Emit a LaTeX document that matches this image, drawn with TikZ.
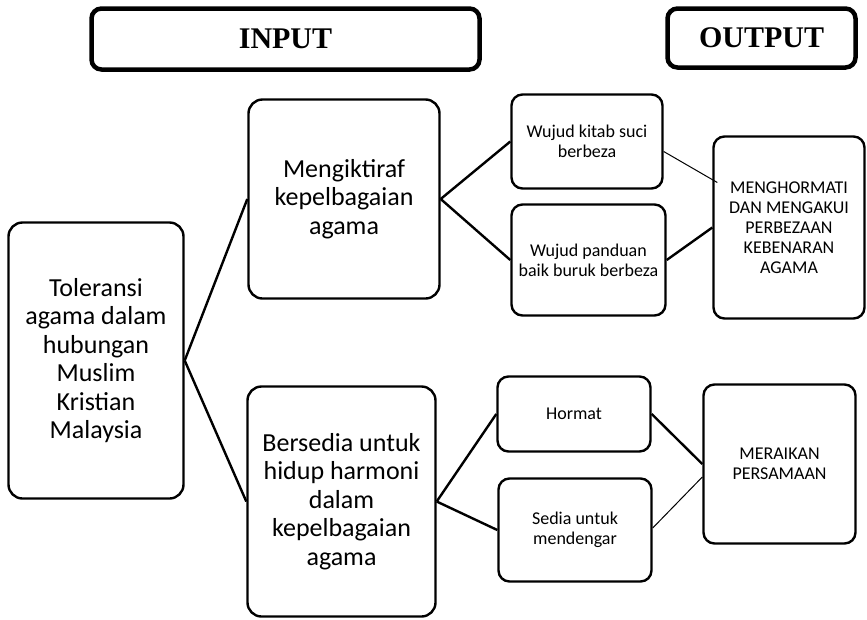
\documentclass[tikz,border=0pt]{standalone}
\usepackage{fontspec}
\setmainfont{Carlito}[UprightFont=*-Regular]
\newfontfamily\hdfont{Liberation Serif}
\begin{document}
\begin{tikzpicture}[x=1pt,y=-1pt,
  box/.style={draw, line width=2.4pt, rounded corners=14pt, align=center, inner sep=0pt, font=\fontsize{26}{28.5}\selectfont},
  sbox/.style={draw, line width=2.4pt, rounded corners=11pt, align=center, inner sep=0pt, font=\fontsize{18}{20}\selectfont},
  hbox/.style={draw, line width=4.5pt, rounded corners=10pt, align=center, inner sep=0pt, font=\hdfont\bfseries\fontsize{30}{32}\selectfont},
  conn/.style={line width=2.4pt},
  thinconn/.style={line width=1pt}]
\useasboundingbox (0,0) rectangle (867,619);

\node[hbox, minimum width=388pt, minimum height=61pt] (input) at (285.5,39) {INPUT};
\node[hbox, minimum width=188pt, minimum height=59pt] (output) at (761.5,38) {OUTPUT};

\node[box, minimum width=175pt, minimum height=276pt] (tol) at (96,360.5)
  {Toleransi\\agama dalam\\hubungan\\Muslim\\Kristian\\Malaysia};
\node[box, minimum width=191pt, minimum height=199pt] (mng) at (344,199)
  {Mengiktiraf\\kepelbagaian\\agama};
\node[box, minimum width=188pt, minimum height=230pt] (ber) at (341.5,501.5)
  {Bersedia untuk\\hidup harmoni\\dalam\\kepelbagaian\\agama};

\node[sbox, minimum width=151pt, minimum height=94pt] (wk) at (587,141.5)
  {Wujud kitab suci\\berbeza};
\node[sbox, minimum width=154pt, minimum height=111pt] (wp) at (588.5,260)
  {Wujud panduan\\baik buruk berbeza};
\node[sbox, minimum width=151pt, minimum height=182pt] (mh) at (789,227.5)
  {MENGHORMATI\\DAN MENGAKUI\\PERBEZAAN\\KEBENARAN\\AGAMA};

\node[sbox, minimum width=153pt, minimum height=75pt] (hor) at (574,414) {Hormat};
\node[sbox, minimum width=153pt, minimum height=103pt] (sed) at (575,530)
  {Sedia untuk\\mendengar};
\node[sbox, minimum width=152pt, minimum height=159pt] (mer) at (779.5,464)
  {MERAIKAN\\PERSAMAAN};

\draw[conn] (tol.east) -- (mng.west);
\draw[conn] (tol.east) -- (ber.west);
\draw[conn] (mng.east) -- (wk.west);
\draw[conn] (mng.east) -- (wp.west);
\draw[thinconn] ([yshift=-10pt]wk.east) -- ([xshift=5pt,yshift=45pt]mh.west);
\draw[conn] (wp.east) -- (mh.west);
\draw[conn] (ber.east) -- (hor.west);
\draw[conn] (ber.east) -- (sed.west);
\draw[conn] (hor.east) -- (mer.west);
\draw[thinconn] ([yshift=2pt]sed.east) -- ([yshift=-13pt]mer.west);
\end{tikzpicture}
\end{document}
